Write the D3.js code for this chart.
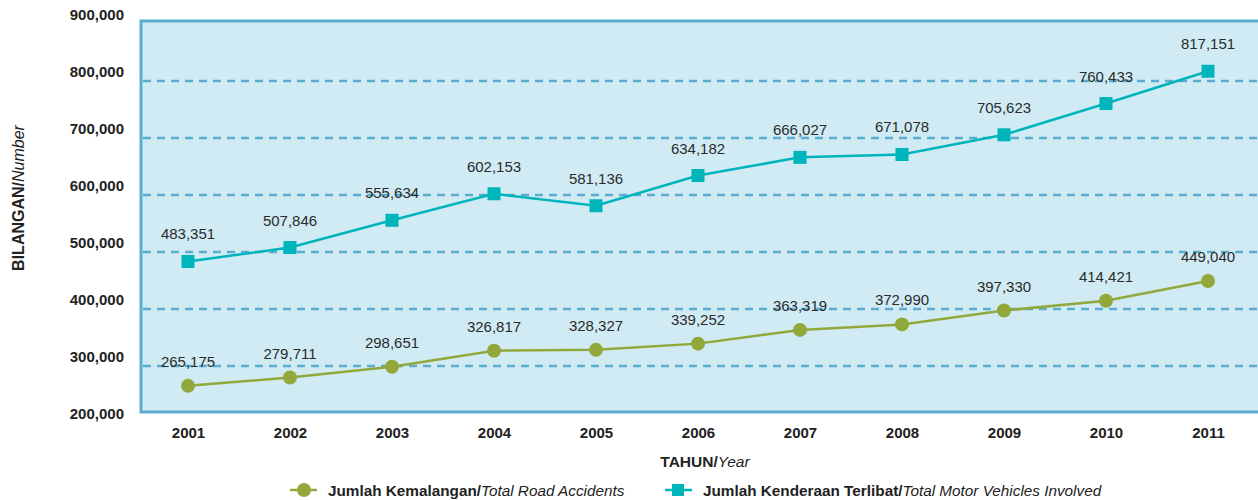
<!DOCTYPE html>
<html>
<head>
<meta charset="utf-8">
<script src="https://d3js.org/d3.v7.min.js"></script>
<style>
  body { margin: 0; background: #fff; }
  text { font-family: "Liberation Sans", Arial, sans-serif; }
</style>
</head>
<body>
<div id="chart"></div>
<script>
// data
var years = ["2001", "2002", "2003", "2004", "2005", "2006", "2007", "2008", "2009", "2010", "2011"];
var accidents = [265175, 279711, 298651, 326817, 328327, 339252, 363319, 372990, 397330, 414421, 449040];
var vehicles = [483351, 507846, 555634, 602153, 581136, 634182, 666027, 671078, 705623, 760433, 817151];
var yTicks = [200000, 300000, 400000, 500000, 600000, 700000, 800000, 900000];
var seriesNames = [
  { bold: "Jumlah Kemalangan/", ital: "Total Road Accidents" },
  { bold: "Jumlah Kenderaan Terlibat/", ital: "Total Motor Vehicles Involved" }
];

var width = 1258, height = 500;
var green = "#93a83b", cyan = "#00b4bc", frame = "#5badd0";

var svg = d3.select("#chart").append("svg")
  .attr("width", width)
  .attr("height", height);

var x = d3.scalePoint().domain(years).range([188, 1208]);
var y = d3.scaleLinear().domain([200000, 900000]).range([423, 24]);
var fmt = d3.format(",");

// plot background + frame
svg.append("rect")
  .attr("x", 141).attr("y", 21)
  .attr("width", width - 141 + 2).attr("height", 391)
  .style("fill", "#d0ebf4")
  .style("stroke", frame)
  .style("stroke-width", 3);

// dashed gridlines
svg.append("g").selectAll("line")
  .data(yTicks.filter(function(d) { return d > 200000 && d < 900000; }))
  .enter().append("line")
  .attr("x1", 143).attr("x2", width)
  .attr("y1", function(d) { return y(d); })
  .attr("y2", function(d) { return y(d); })
  .style("stroke", frame)
  .style("stroke-width", 2.5)
  .style("stroke-dasharray", "8,6");

// y axis labels (sit a bit above their gridlines like the original)
var yAxis = svg.append("g")
  .attr("transform", "translate(124,-9)")
  .call(d3.axisLeft(y).tickValues(yTicks).tickFormat(fmt).tickSize(0).tickPadding(0));
yAxis.select(".domain").remove();
yAxis.selectAll("text")
  .style("font-family", "Liberation Sans, Arial, sans-serif")
  .style("font-size", "15px")
  .style("font-weight", "bold")
  .style("fill", "#222");

// x axis labels
var xAxis = svg.append("g")
  .attr("transform", "translate(0,423)")
  .call(d3.axisBottom(x).tickSize(0).tickPadding(4));
xAxis.select(".domain").remove();
xAxis.selectAll("text")
  .style("font-family", "Liberation Sans, Arial, sans-serif")
  .style("font-size", "15px")
  .style("font-weight", "bold")
  .style("fill", "#222");

// axis titles
var yt = svg.append("text")
  .attr("transform", "translate(24,198) rotate(-90)")
  .attr("text-anchor", "middle")
  .style("font-size", "16px")
  .style("fill", "#222");
yt.append("tspan").style("font-weight", "bold").text("BILANGAN/");
yt.append("tspan").style("font-style", "italic").text("Number");

var xt = svg.append("text")
  .attr("x", 705).attr("y", 467)
  .attr("text-anchor", "middle")
  .style("font-size", "15.5px")
  .style("fill", "#222");
xt.append("tspan").style("font-weight", "bold").text("TAHUN/");
xt.append("tspan").style("font-style", "italic").text("Year");

var line = d3.line()
  .x(function(d, i) { return x(years[i]); })
  .y(function(d) { return y(d); });

// vehicles series
svg.append("path").datum(vehicles)
  .attr("d", line)
  .style("fill", "none").style("stroke", cyan).style("stroke-width", 2.5);
svg.append("g").selectAll("rect")
  .data(vehicles).enter().append("rect")
  .attr("x", function(d, i) { return x(years[i]) - 6.5; })
  .attr("y", function(d) { return y(d) - 6.5; })
  .attr("width", 13).attr("height", 13)
  .style("fill", cyan);
svg.append("g").selectAll("text")
  .data(vehicles).enter().append("text")
  .attr("x", function(d, i) { return x(years[i]); })
  .attr("y", function(d) { return y(d) - 22; })
  .attr("text-anchor", "middle")
  .style("font-size", "15px")
  .style("fill", "#2b2b2b")
  .text(fmt);

// accidents series
svg.append("path").datum(accidents)
  .attr("d", line)
  .style("fill", "none").style("stroke", green).style("stroke-width", 2.5);
svg.append("g").selectAll("circle")
  .data(accidents).enter().append("circle")
  .attr("cx", function(d, i) { return x(years[i]); })
  .attr("cy", function(d) { return y(d); })
  .attr("r", 7)
  .style("fill", green);
svg.append("g").selectAll("text")
  .data(accidents).enter().append("text")
  .attr("x", function(d, i) { return x(years[i]); })
  .attr("y", function(d) { return y(d) - 19; })
  .attr("text-anchor", "middle")
  .style("font-size", "15px")
  .style("fill", "#2b2b2b")
  .text(fmt);

// legend
var legend = svg.append("g").attr("transform", "translate(0,490)");
var lg = [{ x: 290, c: green, shape: "circle" }, { x: 665, c: cyan, shape: "square" }];
lg.forEach(function(l, i) {
  legend.append("line")
    .attr("x1", l.x).attr("x2", l.x + 27)
    .attr("y1", 0).attr("y2", 0)
    .style("stroke", l.c).style("stroke-width", 2.5);
  if (l.shape == "circle") {
    legend.append("circle").attr("cx", l.x + 14).attr("cy", 0).attr("r", 7).style("fill", l.c);
  } else {
    legend.append("rect").attr("x", l.x + 7).attr("y", -6).attr("width", 12).attr("height", 12).style("fill", l.c);
  }
  var t = legend.append("text")
    .attr("x", l.x + 38).attr("y", 5.5)
    .style("font-size", "15.3px")
    .style("fill", "#222");
  t.append("tspan").style("font-weight", "bold").text(seriesNames[i].bold);
  t.append("tspan").style("font-style", "italic").text(seriesNames[i].ital);
});
</script>
</body>
</html>
